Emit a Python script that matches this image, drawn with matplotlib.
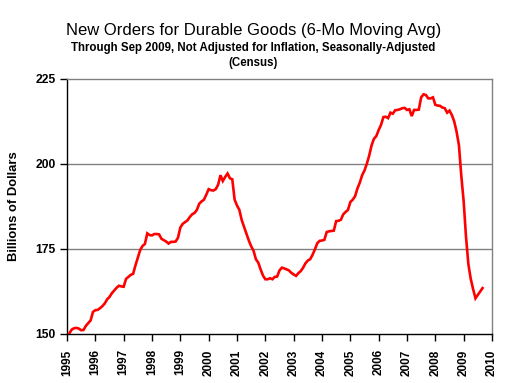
import numpy as np
import matplotlib
matplotlib.use('Agg')
import matplotlib.pyplot as plt

# ================================================
# Dados: média móvel de 6 meses, bilhões de dólares
# (série mensal de fev/1995 a set/2009)
# ================================================

ano_inicio = 1995
mes_inicio = 2  # fevereiro

valores = [
    # 1995 (fev-dez)
    150.2, 151.3, 151.7, 151.8, 151.6, 151.1, 151.2, 152.4, 153.2, 154.0, 156.5,
    # 1996
    157.0, 157.1, 157.6, 158.2, 159.0, 160.2, 160.9, 162.0, 162.8, 163.6, 164.2, 164.0,
    # 1997
    163.9, 166.2, 166.8, 167.4, 167.7, 170.2, 172.5, 174.7, 175.9, 176.5, 179.6, 179.1,
    # 1998
    179.0, 179.4, 179.4, 179.3, 178.0, 177.6, 177.2, 176.6, 177.1, 177.1, 177.2, 178.3,
    # 1999
    181.3, 182.4, 182.9, 183.4, 184.4, 185.2, 185.6, 186.5, 188.3, 189.0, 189.5, 191.0,
    # 2000
    192.6, 192.3, 192.2, 192.6, 193.9, 196.7, 195.0, 196.2, 197.2, 195.8, 195.5, 189.5,
    # 2001
    187.8, 186.5, 183.5, 181.5, 179.5, 177.5, 175.8, 174.5, 172.0, 171.0, 169.0, 167.2,
    # 2002
    166.1, 166.1, 166.4, 166.1, 166.8, 166.9, 168.7, 169.5, 169.3, 169.0, 168.7, 168.0,
    # 2003
    167.5, 167.1, 167.9, 168.5, 169.5, 170.8, 171.6, 172.0, 173.3, 174.9, 176.7, 177.4,
    # 2004
    177.5, 177.7, 180.0, 180.2, 180.3, 180.4, 183.2, 183.3, 183.6, 185.2, 185.9, 186.5,
    # 2005
    188.8, 189.5, 190.5, 192.8, 194.5, 196.7, 198.1, 200.1, 202.5, 205.5, 207.4, 208.2,
    # 2006
    210.0, 211.5, 213.8, 213.9, 213.5, 215.1, 214.8, 215.8, 215.9, 216.1, 216.4, 216.5,
    # 2007
    215.9, 216.1, 214.1, 215.9, 215.9, 216.0, 219.6, 220.5, 220.3, 219.3, 219.3, 219.6,
    # 2008
    217.4, 217.2, 217.1, 216.6, 216.4, 215.1, 215.7, 214.4, 212.5, 209.5, 205.5, 196.5,
    # 2009 (jan-set)
    189.0, 178.5, 170.5, 166.2, 163.2, 160.5, 161.5, 162.5, 163.5,
]

anos_ticks = list(range(1995, 2011))
y_ticks = [150, 175, 200, 225]

titulo = 'New Orders for Durable Goods (6-Mo Moving Avg)'
subtitulo = 'Through Sep 2009, Not Adjusted for Inflation, Seasonally-Adjusted'
fonte = '(Census)'
rotulo_y = 'Billions of Dollars'

# posição de cada mês em anos decimais
meses = np.arange(len(valores)) + (mes_inicio - 1)
x = ano_inicio + meses / 12.0

# ================================================
# Gráfico
# ================================================

plt.rcParams['font.family'] = ['Liberation Sans', 'DejaVu Sans']

fig = plt.figure(figsize=(5.07, 3.83), dpi=100)
ax = fig.add_axes([67 / 507, 1 - 334 / 383, 425 / 507, 255 / 383])

cinza = '#808080'
for yv in [175, 200]:
    ax.axhline(yv, color=cinza, lw=1.0, zorder=1)

ax.plot(x, valores, color='#ff0000', lw=1.9, zorder=3, solid_joinstyle='miter')

ax.set_xlim(1995, 2010)
ax.set_ylim(150, 225)
ax.set_xticks(anos_ticks)
ax.set_xticklabels([str(a) for a in anos_ticks], rotation=90,
                   fontsize=8.5, fontweight='bold')
ax.set_yticks(y_ticks)
ax.set_yticklabels([str(v) for v in y_ticks], fontsize=8.7, fontweight='bold')
ax.tick_params(axis='both', direction='out', length=5, width=1, color='black')
ax.tick_params(axis='x', pad=6)
ax.tick_params(axis='y', pad=3)

ax.spines['left'].set_color('black')
ax.spines['bottom'].set_color('black')
ax.spines['top'].set_color(cinza)
ax.spines['right'].set_color(cinza)
for s in ax.spines.values():
    s.set_linewidth(1.0)

ax.set_ylabel(rotulo_y, fontsize=9.4, fontweight='bold', labelpad=11)

fig.text(0.5, 1 - 31 / 383, titulo, ha='center', va='center', fontsize=12)
fig.text(0.5, 1 - 48 / 383, subtitulo, ha='center', va='center', fontsize=8.3,
         fontweight='bold')
fig.text(0.5, 1 - 63 / 383, fonte, ha='center', va='center', fontsize=8.3,
         fontweight='bold')

fig.savefig('out.png', dpi=100)
